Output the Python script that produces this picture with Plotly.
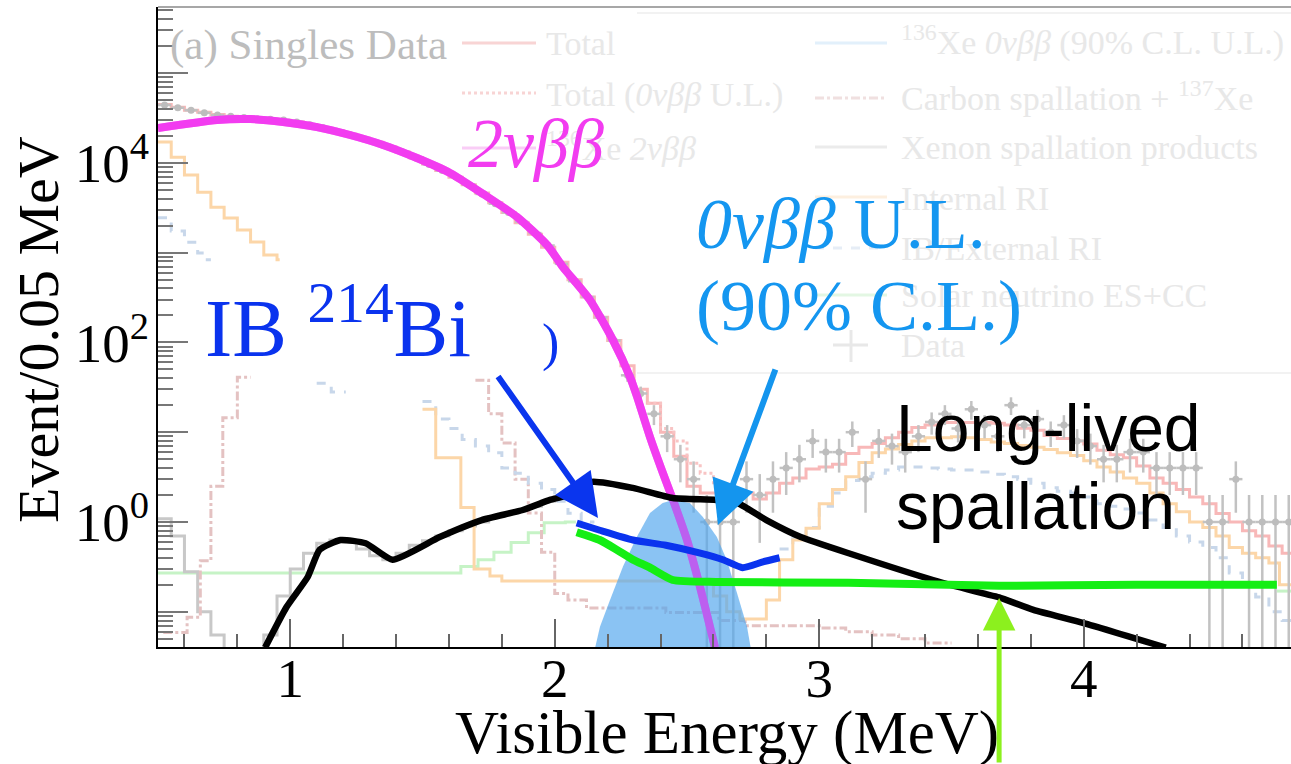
import numpy as np
import plotly.graph_objects as go

# ---------------- data (energy in MeV, events per 0.05 MeV) ----------------
# bold overlay curves
two_nbb_e = [0.500, 0.723, 0.848, 0.973, 1.101, 1.226, 1.351, 1.479, 1.604, 1.729, 1.857, 1.971,
             2.031, 2.133, 2.220, 2.285, 2.311, 2.360, 2.409, 2.447, 2.500, 2.549, 2.606]
two_nbb_v = [24400, 30000, 30700, 28500, 25000, 20400, 15800, 11300, 7700, 4500, 2500, 1215,
             690, 297, 106, 41, 25, 8.85, 3.5, 1.76, 0.63, 0.19, 0.04]

spall_e = [0.905, 0.986, 1.066, 1.111, 1.19, 1.285, 1.387, 1.565, 1.724, 1.879, 1.982, 2.038, 2.14,
           2.295, 2.446, 2.61, 2.69, 2.80, 2.93, 3.12, 3.43, 3.62, 3.68, 3.81, 4.00, 4.31]
spall_v = [0.04, 0.113, 0.244, 0.49, 0.63, 0.58, 0.38, 0.68, 1.05, 1.36, 1.76, 1.95, 2.8,
           2.4, 1.85, 1.76, 1.63, 1.05, 0.68, 0.44, 0.226, 0.16, 0.145, 0.105, 0.075, 0.04]

bi214_e = [2.083, 2.17, 2.296, 2.42, 2.55, 2.636, 2.71, 2.787, 2.85]
bi214_v = [0.975, 0.81, 0.63, 0.55, 0.45, 0.38, 0.31, 0.36, 0.40]

solar_e = [2.083, 2.17, 2.235, 2.296, 2.36, 2.446, 2.61, 3.11, 3.68, 4.20, 4.73]
solar_v = [0.77, 0.63, 0.49, 0.38, 0.31, 0.226, 0.215, 0.21, 0.195, 0.2, 0.2]

onbb_e = [2.143, 2.171, 2.209, 2.258, 2.31, 2.36, 2.408, 2.447, 2.511, 2.56, 2.613, 2.65, 2.689, 2.727, 2.748]
onbb_v = [0.03, 0.068, 0.135, 0.32, 0.68, 1.26, 1.63, 1.76, 1.63, 1.14, 0.68, 0.38, 0.162, 0.068, 0.03]

# faded background histograms (bin edges / contents)
total_edges = list(np.round(np.arange(0.50, 4.751, 0.05), 3)) + [4.785]
total_vals = [44500, 41500, 38500, 36500, 34500, 33000, 32000, 31000, 30500, 29800,
              28500, 26700, 24800, 22800, 20800, 18800, 16900, 15000, 13200, 11400,
              9700, 8200, 6900, 5700, 4600, 3600, 2800, 2150, 1600, 1150,
              780, 500, 320, 190, 105, 55, 30, 21, 10, 5.4,
              2.5, 2.1, 2.1, 2.1, 2.1, 1.8, 2.1, 2.7, 3.1, 3.9,
              4.1, 4.4, 5.8, 6.8, 7.5, 8.7, 10, 11.3, 12, 12.8,
              12.8, 12.8, 12.8, 12.6, 12, 11.1, 10.5, 9.2, 8.5, 8,
              7.4, 6.3, 5.6, 5.2, 4.2, 3.1, 2.7, 2.3, 1.9, 1.6,
              1.24, 1.0, 0.8, 0.7, 0.54, 0.45]

total_ul_edges = [2.35, 2.40, 2.45, 2.50, 2.55, 2.60, 2.65, 2.70]
total_ul_vals = [21, 11, 8, 4.5, 3.5, 2.6, 2.2]

ri_lo_edges = [0.50, 0.55, 0.60, 0.65, 0.70, 0.75, 0.80, 0.85, 0.90, 0.95, 0.96]
ri_lo_vals = [17000, 11500, 7300, 4700, 3200, 2430, 1780, 1310, 940, 830]
ri_hi_edges = [1.50, 1.55, 1.645, 1.695, 1.755, 1.80, 2.60, 2.65, 2.70, 2.80, 2.85, 2.90, 2.95, 3.00,
               3.05, 3.10, 3.15, 3.20, 3.25, 3.30, 3.35, 3.40, 3.45, 3.50, 3.55, 3.60, 3.65, 3.70,
               3.75, 3.80, 3.85, 3.90, 3.95, 4.00, 4.05, 4.10, 4.15, 4.20, 4.25, 4.30, 4.35, 4.40,
               4.45, 4.50, 4.55, 4.60, 4.65, 4.70, 4.74, 4.785]
ri_hi_vals = [18, 5.2, 1.45, 0.30, 0.25, 0.22, 0.15, 0.1, 0.083, 0.135, 0.38, 0.63, 0.85,
              1.6, 2.3, 3.2, 4.6, 5.9, 6.5, 7.3, 8.0, 8.7, 8.7, 8.9, 8.7, 8.3, 7.8, 7.5,
              7.1, 6.8, 6.4, 5.9, 5.5, 4.8, 4.1, 3.6, 3.1, 2.7, 2.1, 1.6, 1.3, 1.0,
              0.87, 0.7, 0.52, 0.45, 0.4, 0.35, 0.2]

ext_lo_edges = [0.50, 0.55, 0.60, 0.65, 0.68, 0.70]
ext_lo_vals = [2450, 1740, 1300, 990, 830]
ext_mid_edges = [1.10, 1.155, 1.21]
ext_mid_vals = [35, 28]
ext_hi_edges = [1.50, 1.55, 1.60, 1.65, 1.70, 1.75, 1.80, 1.85, 1.90, 1.95, 2.00, 2.05, 2.10, 2.15]
ext_hi_vals = [22, 14, 11, 8.3, 7.0, 5.9, 4.0, 3.5, 2.7, 2.3, 1.7, 1.25, 1.0]
ext_top_edges = list(np.round(np.arange(2.85, 4.751, 0.05), 3)) + [4.785]
ext_top_vals = [0.5, 0.65, 0.87, 1.5, 2.1, 2.9, 3.2, 3.5, 3.8, 4.1, 4.1, 4.0, 3.9, 3.8, 3.8,
                3.6, 3.4, 3.2, 3.0, 2.7, 2.4, 2.2, 2.1, 1.9, 1.6, 1.5, 1.4, 1.26, 1.05, 0.87,
                0.7, 0.6, 0.52, 0.4, 0.27, 0.2, 0.146, 0.1, 0.08]

carbon_lo_edges = [0.52, 0.61, 0.66, 0.70, 0.745, 0.80, 0.85]
carbon_lo_vals = [0.059, 0.087, 0.37, 2.5, 14.5, 41]
carbon_hi_edges = [1.70, 1.75, 1.80, 1.85, 1.90, 1.95, 2.00, 2.05, 2.12, 2.42, 2.62, 2.72, 3.00,
                   3.10, 3.20, 3.30, 3.40, 3.50]
carbon_hi_vals = [38, 16, 7.6, 3.0, 1.26, 0.46, 0.16, 0.135, 0.11, 0.098, 0.08, 0.07, 0.066,
                  0.06, 0.055, 0.05, 0.045]

xe_lo_edges = [0.50, 0.55, 0.60, 0.65, 0.70, 0.75, 0.80]
xe_lo_vals = [1.09, 0.7, 0.28, 0.1, 0.055, 0.01]
xe_hi_edges = [0.85, 0.90, 0.95, 1.00, 1.05, 1.10, 1.15, 1.20, 1.25, 1.30, 1.35, 1.40, 1.45, 1.50,
               1.55, 1.60, 1.65, 1.70, 1.75, 1.80, 1.85, 1.90, 1.95, 2.00, 2.05, 2.10, 2.15]
xe_hi_vals = [0.01, 0.055, 0.15, 0.3, 0.45, 0.58, 0.63, 0.6, 0.5, 0.42, 0.38, 0.45, 0.55, 0.62,
              0.7, 0.8, 0.9, 1.0, 1.15, 1.25, 1.35, 1.5, 1.7, 1.9, 2.3, 2.7]

solar_lo_edges = [0.50, 1.645, 1.71, 1.77, 1.835, 1.90, 1.96, 2.04, 2.08]
solar_lo_vals = [0.27, 0.32, 0.38, 0.46, 0.59, 0.76, 0.98, 1.0]
solar_hi_edges = [4.73, 4.785]
solar_hi_vals = [0.17]

data_e = list(np.round(np.arange(0.525, 4.80, 0.05), 3))
data_n = [44000, 41000, 38500, 36000, 34000, 33000, 32000, 31000, 30500, 30000,
          28500, 26500, 24500, 22500, 20500, 18500, 16800, 15000, 13200, 11300,
          9600, 8200, 7000, 5700, 4500, 3500, 2800, 2200, 1650, 1200,
          750, 480, 320, 190, 105, 43, 27, 16, 9, 5,
          3, 1, 1, 1, 3, 2, 3, 4, 5, 8,
          6, 6, 10, 3, 8, 7, 6, 9, 13, 16,
          11, 18, 12, 9, 20, 12, 14, 10, 12, 8,
          7, 5, 5, 6, 6, 4, 4, 4, 4, 1,
          1, 3, 1, 1, 1, 1]

# ---------------- geometry helpers (pixel -> paper) ----------------
W_FIG, H_FIG = 1291, 764
L, T = 158, 7
PW, PH = W_FIG - L, 640


def pxX(x):
    return (x - L) / PW


def pxY(y):
    return (T + PH - y) / PH


SERIF = "Liberation Serif"
SANS = "Liberation Sans"

fig = go.Figure()


def step_trace(edges, vals, color, dash="solid", width=3):
    xs = list(edges)
    ys = list(vals) + [vals[-1]]
    fig.add_trace(go.Scatter(x=xs, y=ys, mode="lines", line_shape="hv",
                             line=dict(color=color, width=width, dash=dash),
                             hoverinfo="skip"))


# faded background
step_trace(solar_lo_edges, solar_lo_vals, "#c6f3c6")
step_trace(solar_hi_edges, solar_hi_vals, "#c6f3c6")
step_trace(xe_lo_edges, xe_lo_vals, "#c8c8c8")
step_trace(xe_hi_edges, xe_hi_vals, "#c8c8c8")
step_trace(carbon_lo_edges, carbon_lo_vals, "#e4c2c2", dash="dashdot")
step_trace(carbon_hi_edges, carbon_hi_vals, "#e4c2c2", dash="dashdot")
step_trace(ext_lo_edges, ext_lo_vals, "#c8d7ea", dash="dash")
step_trace(ext_mid_edges, ext_mid_vals, "#c8d7ea", dash="dash")
step_trace(ext_hi_edges, ext_hi_vals, "#c8d7ea", dash="dash")
step_trace(ext_top_edges, ext_top_vals, "#c8d7ea", dash="dash")
step_trace(ri_lo_edges, ri_lo_vals, "#fcd6a8")
step_trace(ri_hi_edges, ri_hi_vals, "#fcd6a8")
step_trace(total_edges, total_vals, "#f8b8b8")
step_trace(total_ul_edges, total_ul_vals, "#f8c4c4", dash="dot")

data_n_arr = np.array(data_n, dtype=float)
err = np.sqrt(data_n_arr)
err_lo = np.minimum(err, data_n_arr * 0.999)
fig.add_trace(go.Scatter(
    x=data_e, y=data_n, mode="markers",
    marker=dict(color="#bdbdbd", size=7),
    error_y=dict(type="data", array=err, arrayminus=err_lo, color="#c2c2c2", thickness=2.5, width=0),
    error_x=dict(type="constant", value=0.025, color="#c2c2c2", thickness=2.5, width=0),
    hoverinfo="skip"))

# bold overlays
MAG = "#f23cf0"
fig.add_trace(go.Scatter(x=two_nbb_e, y=two_nbb_v, mode="lines",
                         line=dict(color=MAG, width=8, shape="spline", smoothing=0.6), hoverinfo="skip"))
fig.add_trace(go.Scatter(x=onbb_e, y=onbb_v, mode="lines", fill="toself",
                         fillcolor="rgba(82,166,238,0.68)", line=dict(color="rgba(82,166,238,0.0)", width=0),
                         hoverinfo="skip"))
fig.add_trace(go.Scatter(x=two_nbb_e, y=two_nbb_v, mode="lines", opacity=0.5,
                         line=dict(color=MAG, width=8, shape="spline", smoothing=0.6), hoverinfo="skip"))
fig.add_trace(go.Scatter(x=spall_e, y=spall_v, mode="lines",
                         line=dict(color="black", width=6.5, shape="spline", smoothing=0.5), hoverinfo="skip"))
fig.add_trace(go.Scatter(x=bi214_e, y=bi214_v, mode="lines",
                         line=dict(color="#0a33ee", width=7, shape="spline", smoothing=0.5), hoverinfo="skip"))
fig.add_trace(go.Scatter(x=solar_e, y=solar_v, mode="lines",
                         line=dict(color="#14ee14", width=8, shape="spline", smoothing=0.5), hoverinfo="skip"))

# ---------------- annotations ----------------
ann = []


def text(x, y, s, size, color, family=SERIF, xanchor="left", angle=0):
    ann.append(dict(xref="paper", yref="paper", x=pxX(x), y=pxY(y), text=s, showarrow=False,
                    xanchor=xanchor, yanchor="middle", textangle=angle,
                    font=dict(family=family, size=size, color=color)))


# faded title and legend
text(168, 45, "(a) Singles Data", 43, "#bdbdbd")
LEG_TXT = "#e8e8e8"
LS = 34
text(544, 43, "Total", LS, LEG_TXT)
text(544, 95, "Total (<i>0νββ</i> U.L.)", LS, LEG_TXT)
text(544, 146, "<sup>136</sup>Xe <i>2νββ</i>", LS, LEG_TXT)
text(899, 41, "<sup>136</sup>Xe <i>0νββ</i> (90% C.L. U.L.)", LS, LEG_TXT)
text(899, 96, "Carbon spallation + <sup>137</sup>Xe", LS, LEG_TXT)
text(899, 147, "Xenon spallation products", LS, LEG_TXT)
text(899, 198, "Internal RI", LS, LEG_TXT)
text(899, 248, "IB/External RI", LS, LEG_TXT)
text(899, 295, "Solar neutrino ES+CC", LS, LEG_TXT)
text(899, 345, "Data", LS, LEG_TXT)

# bold labels
text(466, 143, "<i>2νββ</i>", 70, MAG)
text(203, 322, "IB <sup>214</sup>Bi", 82, "#0a33ee")
text(550, 343, ")", 52, "#0a33ee", xanchor="center")
text(694, 224, "<i>0νββ</i> U.L.", 72, "#1496f0")
text(694, 306, "(90% C.L.)", 72, "#1496f0")
text(894, 428, "Long-lived", 66, "black", family=SANS)
text(894, 506, "spallation", 66, "black", family=SANS)

# axis titles
text(727, 733, "Visible Energy (MeV)", 61, "black", xanchor="center")
ann.append(dict(xref="paper", yref="paper", x=pxX(38), y=pxY(330), text="Event/0.05 MeV",
                showarrow=False, xanchor="center", yanchor="middle", textangle=-90,
                font=dict(family=SERIF, size=58, color="black")))

# arrows (tip in data coords, tail offset in px)
def arrow(e, v, ax, ay, color, width, size):
    ann.append(dict(xref="x", yref="y", x=e, y=float(np.log10(v)), ax=ax, ay=ay, text="",
                    showarrow=True, arrowhead=2, arrowsize=size, arrowwidth=width,
                    arrowcolor=color, standoff=0))


arrow(2.1635, 10 ** 0.0445, -101, -143, "#0a35ee", 6, 1.45)
arrow(2.617, 10 ** -0.033, 58, -157, "#1495ee", 6, 1.45)
arrow(3.68, 10 ** -0.846, 0, 175, "#8cf01e", 5, 1.3)

# ---------------- shapes ----------------
shapes = []


def pline(x0, y0, x1, y1, color, width=2, dash="solid"):
    shapes.append(dict(type="line", xref="paper", yref="paper", x0=pxX(x0), y0=pxY(y0),
                       x1=pxX(x1), y1=pxY(y1), line=dict(color=color, width=width, dash=dash),
                       layer="below"))


pline(158, 7, 1291, 7, "#8a8a8a", 1.5)
pline(637, 13, 1291, 13, "#eeeeee", 1.5)
pline(637, 373, 1291, 373, "#eeeeee", 1.5)
# legend samples
pline(462, 43, 536, 43, "#f8d4d4", 3)
pline(462, 93, 536, 93, "#f8d4d4", 3, "dot")
pline(462, 148, 536, 148, "#f9cdf6", 3)
pline(815, 43, 887, 43, "#e2f0fb", 3)
pline(815, 98, 887, 98, "#f0e0e0", 3, "dashdot")
pline(815, 147, 887, 147, "#ebebeb", 3)
pline(815, 197, 887, 197, "#fdefdf", 3)
pline(815, 248, 887, 248, "#e6edf6", 3, "dash")
pline(815, 295, 887, 295, "#e3f7e3", 3)
pline(833, 345, 868, 345, "#e8e8e8", 3)
pline(851, 330, 851, 362, "#e8e8e8", 3)

# ---------------- layout ----------------
x_max = 0.5 + PW / 264.5
fig.update_layout(
    width=W_FIG, height=H_FIG,
    margin=dict(l=L, r=0, t=T, b=H_FIG - T - PH, pad=0),
    paper_bgcolor="white", plot_bgcolor="white",
    showlegend=False,
    annotations=ann, shapes=shapes,
    xaxis=dict(range=[0.5, x_max], showgrid=False, zeroline=False,
               showline=True, linecolor="black", linewidth=2,
               ticks="inside", ticklen=28, tickwidth=1.5, tickcolor="#666",
               tickvals=[1, 2, 3, 4], ticktext=["1", "2", "3", "4"],
               tickfont=dict(family=SERIF, size=55, color="black"),
               ticklabelstandoff=-18,
               minor=dict(ticks="inside", ticklen=13, tickwidth=1.5, tickcolor="#666",
                          dtick=0.2, tick0=0, showgrid=False)),
    yaxis=dict(type="log", range=[-1.392, 5.735], showgrid=False, zeroline=False,
               showline=True, linecolor="black", linewidth=2,
               ticks="inside", ticklen=30, tickwidth=1.5, tickcolor="#777",
               tickvals=[0.1, 1, 10, 100, 1000, 1e4, 1e5],
               ticktext=["", "10<sup>0</sup>", "", "10<sup>2</sup>", "", "10<sup>4</sup>", ""],
               tickfont=dict(family=SERIF, size=55, color="black"),
               ticklabelstandoff=-4,
               minor=dict(ticks="inside", ticklen=15, tickwidth=1.5, tickcolor="#777",
                          dtick="D1", showgrid=False)),
)

fig.write_html("out.html", config={"displayModeBar": False},
               post_script="document.body.style.margin='0';document.body.style.overflow='hidden';")
